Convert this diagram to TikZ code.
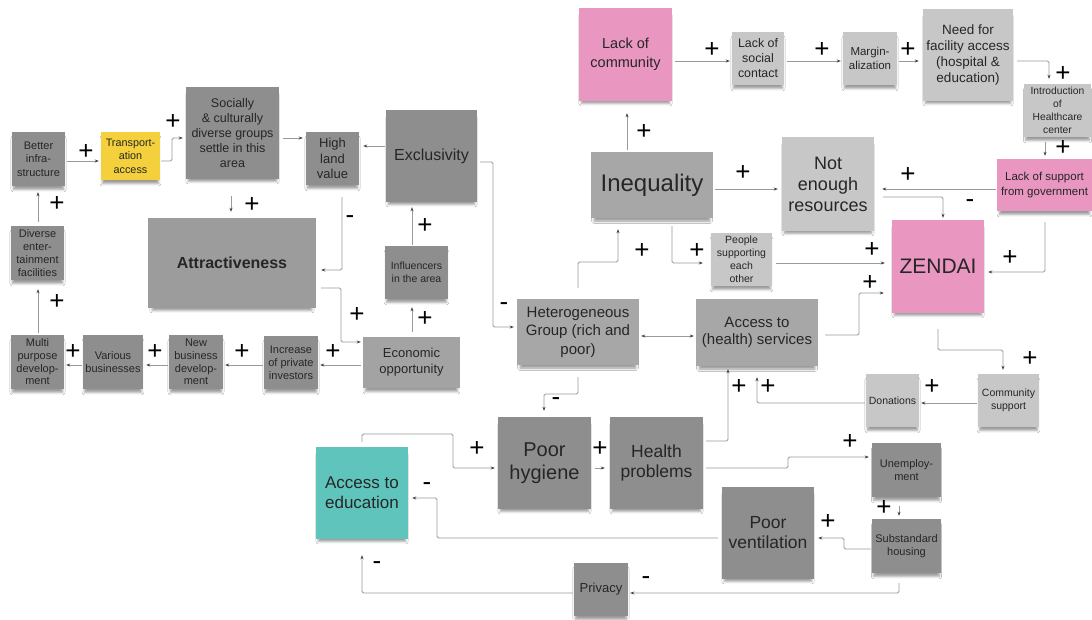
\documentclass[tikz,border=0pt]{standalone}
\usepackage{fontspec}
\setmainfont{Liberation Sans}
\usetikzlibrary{arrows.meta,shadows.blur}
\definecolor{notedark}{HTML}{8E8E8E}
\definecolor{noteattr}{HTML}{9C9C9C}
\definecolor{noteecon}{HTML}{A3A3A3}
\definecolor{notemid}{HTML}{A7A7A7}
\definecolor{notelight}{HTML}{C7C7C7}
\definecolor{notepink}{HTML}{E996C0}
\definecolor{noteyellow}{HTML}{F4D03C}
\definecolor{noteteal}{HTML}{5EC4BC}
\definecolor{linkgray}{HTML}{9A9A9A}
\newcommand\notefont[2]{\fontsize{#1}{#2}\selectfont}

\begin{document}
\begin{tikzpicture}[x=1pt,y=-1pt,
  >={Stealth[length=4pt,width=3pt,color=black!75]},
  note/.style={fill=#1, align=center, inner sep=0pt, text=black!85,
    blur shadow={shadow xshift=0pt, shadow yshift=-5pt, shadow blur radius=2.5pt,
      shadow scale=0.95}},
  sz/.style 2 args={minimum width=#1pt, minimum height=#2pt},
  link/.style={draw=linkgray, line width=0.8pt, rounded corners=1.5pt, ->},
  gap/.style 2 args={shorten <=#1pt, shorten >=#2pt},
  sgn/.style={font=\notefont{26}{26}, inner sep=0pt, text=black}]

\fill[white] (0,0) rectangle (1092,619);
\useasboundingbox (0,0) rectangle (1092,619);

% ---- left loop: urban attractiveness ----
\node[note=notedark, sz={53}{54}, font=\notefont{11}{13.5}] (infra) at (38.5,159) {Better\\infra-\\structure};
\node[note=noteyellow, sz={59}{48}, font=\notefont{10.8}{13.5}] (transport) at (130.5,156) {Transport-\\ation\\access};
\node[note=notedark, sz={93}{92}, font=\notefont{12.5}{15}] (social) at (232.5,133) {Socially\\\& culturally\\diverse groups\\settle in this\\area};
\node[note=notedark, sz={53}{53}, font=\notefont{13}{15.5}] (land) at (332.5,158.5) {High\\land\\value};
\node[note=notedark, sz={91}{92}, font=\notefont{16}{19}] (excl) at (431.5,156) {Exclusivity};
\node[note=noteattr, sz={168}{90}, font=\notefont{16}{19}\bfseries] (attract) at (232,263) {Attractiveness};
\node[note=notedark, sz={63}{53}, font=\notefont{10.5}{13}] (influ) at (416.5,272.5) {Influencers\\in the area};
\node[note=notedark, sz={53}{54}, font=\notefont{11}{13}] (diverse) at (37.5,253) {Diverse\\enter-\\tainment\\facilities};
\node[note=notedark, sz={53}{54}, font=\notefont{11}{12.7}] (multi) at (37.5,362) {Multi\\purpose\\develop-\\ment};
\node[note=notedark, sz={60}{54}, font=\notefont{11}{13}] (various) at (113,362) {Various\\businesses};
\node[note=notedark, sz={54}{54}, font=\notefont{11}{12.7}] (newbiz) at (196,362) {New\\business\\develop-\\ment};
\node[note=notedark, sz={54}{53}, font=\notefont{11}{13}] (investors) at (291,362.5) {Increase\\of private\\investors};
\node[note=noteecon, sz={97}{51}, font=\notefont{13}{16}] (econ) at (411.5,362.5) {Economic\\opportunity};

% ---- top right: community and resources ----
\node[note=notepink, sz={93}{93}, font=\notefont{14.5}{19}] (community) at (625.5,54.5) {Lack of\\community};
\node[note=notelight, sz={52}{53}, font=\notefont{12.4}{15}] (socialcontact) at (758,58.5) {Lack of\\social\\contact};
\node[note=notelight, sz={54}{53}, font=\notefont{11.5}{13.5}] (margin) at (870,58.5) {Margin-\\alization};
\node[note=notelight, sz={90}{92}, font=\notefont{13.5}{15.7}] (need) at (968,55) {Need for\\facility access\\(hospital \&\\education)};
\node[note=notelight, sz={67}{53}, font=\notefont{10.3}{12.8}] (intro) at (1057.5,110.5) {Introduction\\of\\Healthcare\\center};
\node[note=notepink, sz={95}{52}, font=\notefont{11.5}{14.3}] (govt) at (1044.5,185) {Lack of support\\from government};
\node[note=notemid, sz={122}{66}, font=\notefont{24}{28}] (ineq) at (652,185) {Inequality};
\node[note=notelight, sz={92}{94}, font=\notefont{18}{21}] (resources) at (828,184) {Not\\enough\\resources};
\node[note=notelight, sz={61}{53}, font=\notefont{10.5}{13}] (people) at (741.5,259.5) {People\\supporting\\each\\other};
\node[note=notepink, sz={92}{93}, font=\notefont{21}{24}] (zendai) at (938,266.5) {ZENDAI};
\node[note=notemid, sz={122}{66}, font=\notefont{15}{18.5}] (hetero) at (578,332) {Heterogeneous\\Group (rich and\\poor)};
\node[note=notemid, sz={122}{67}, font=\notefont{15}{17.7}] (access) at (757,332.5) {Access to\\(health) services};
\node[note=notelight, sz={53}{53}, font=\notefont{10.5}{13}] (donations) at (892.5,400.5) {Donations};
\node[note=notelight, sz={61}{53}, font=\notefont{10.5}{13}] (commsupport) at (1008.5,400.5) {Community\\support};

% ---- bottom: living conditions ----
\node[note=noteteal, sz={92}{92}, font=\notefont{17}{20}] (education) at (362,493) {Access to\\education};
\node[note=notedark, sz={93}{92}, font=\notefont{20}{23}] (hygiene) at (544.5,463) {Poor\\hygiene};
\node[note=notedark, sz={93}{92}, font=\notefont{17.5}{20.5}] (health) at (656.5,463) {Health\\problems};
\node[note=notedark, sz={69}{54}, font=\notefont{11}{12.5}] (unemp) at (906.5,470) {Unemploy-\\ment};
\node[note=notedark, sz={92}{92}, font=\notefont{17.5}{20}] (ventilation) at (768,533) {Poor\\ventilation};
\node[note=notedark, sz={69}{54}, font=\notefont{11}{12.7}] (housing) at (906.5,546) {Substandard\\housing};
\node[note=notedark, sz={54}{53}, font=\notefont{13}{15}] (privacy) at (601,589.5) {Privacy};

% ---- links ----
\draw[link, gap={2}{2}] (infra.east |- 0,161) -- (transport.west |- 0,161);
\draw[link, gap={1}{3}] (transport.east |- 0,161) -- (172,161) -- (172,138) -- (social.west |- 0,138);
\draw[link, gap={4}{3}] (social.east |- 0,138) -- (land.west |- 0,138);
\draw[link, gap={1}{4}] (excl.west |- 0,146) -- (land.east |- 0,146);
\draw[link, gap={17}{6}] (social.south -| 231,0) -- (attract.north -| 231,0);
\draw[link, gap={4}{6}] (diverse.north -| 38,0) -- (infra.south -| 38,0);
\draw[link, gap={2}{9}] (multi.north -| 38,0) -- (diverse.south -| 38,0);
\draw[link, gap={12}{5}] (land.south -| 342,0) -- (342,270) -- (attract.east |- 0,270);
\draw[link, gap={5}{2}] (attract.east |- 0,288) -- (341,288) -- (341,342) -- (econ.west |- 0,342);
\draw[link, gap={1}{5}] (influ.north -| 412,0) -- (excl.south -| 412,0);
\draw[link, gap={5}{8}] (econ.north -| 412,0) -- (influ.south -| 412,0);
\draw[link, gap={2}{2}] (econ.west |- 0,365) -- (investors.east |- 0,365);
\draw[link, gap={1}{2}] (investors.west |- 0,365) -- (newbiz.east |- 0,365);
\draw[link, gap={1}{3}] (newbiz.west |- 0,365) -- (various.east |- 0,365);
\draw[link, gap={1}{2}] (various.west |- 0,365) -- (multi.east |- 0,365);
\draw[link, gap={3}{3}] (excl.east |- 0,162) -- (493,162) -- (493,327) -- (hetero.west |- 0,327);
\draw[link, gap={11}{11}] (hetero.north -| 578,0) -- (578,262) -- (618,262) -- (ineq.south -| 618,0);
\draw[link, <->, gap={2}{2}] (hetero.east |- 0,336) -- (access.west |- 0,336);
\draw[link, gap={12}{6}] (hetero.south -| 578,0) -- (578,394) -- (544,394) -- (hygiene.north -| 544,0);
\draw[link, gap={2}{12}] (ineq.north -| 627,0) -- (community.south -| 627,0);
\draw[link, gap={3}{2}] (community.east |- 0,61) -- (socialcontact.west |- 0,61);
\draw[link, gap={3}{2}] (socialcontact.east |- 0,61) -- (margin.west |- 0,61);
\draw[link, gap={2}{4}] (margin.east |- 0,61) -- (need.west |- 0,61);
\draw[link, gap={4}{5}] (need.east |- 0,61) -- (1049,61) -- (intro.north -| 1049,0);
\draw[link, gap={5}{3}] (intro.south -| 1045,0) -- (govt.north -| 1045,0);
\draw[link, gap={2}{4}] (ineq.east |- 0,189) -- (resources.west |- 0,189);
\draw[link, gap={1}{8}] (govt.west |- 0,189) -- (resources.east |- 0,189);
\draw[link, gap={9}{2}] (resources.east |- 0,197) -- (943,197) -- (zendai.north -| 943,0);
\draw[link, gap={11}{4}] (govt.south -| 1045,0) -- (1045,272) -- (zendai.east |- 0,272);
\draw[link, gap={8}{8}] (ineq.south -| 672,0) -- (672,263) -- (people.west |- 0,263);
\draw[link, gap={4}{7}] (people.east |- 0,263) -- (zendai.west |- 0,263);
\draw[link, gap={7}{8}] (access.east |- 0,335) -- (859,335) -- (859,293) -- (zendai.west |- 0,293);
\draw[link, gap={16}{4}] (zendai.south -| 938,0) -- (938,350) -- (1003,350) -- (commsupport.north -| 1003,0);
\draw[link, gap={1}{2}] (commsupport.west |- 0,403) -- (donations.east |- 0,403);
\draw[link, gap={1}{11}] (donations.west |- 0,403) -- (757,403) -- (access.south -| 757,0);
\draw[link, gap={3}{3}] (health.east |- 0,441) -- (728,441) -- (access.south -| 728,0);
\draw[link, gap={3}{3}] (health.east |- 0,468) -- (788,468) -- (788,457) -- (unemp.west |- 0,457);
\draw[link, gap={9}{3}] (unemp.south -| 899,0) -- (housing.north -| 899,0);
\draw[link, gap={1}{4}] (housing.west |- 0,549) -- (844,549) -- (844,538) -- (ventilation.east |- 0,538);
\draw[link, gap={10}{2}] (housing.south -| 899,0) -- (899,593) -- (privacy.east |- 0,593);
\draw[link, gap={4}{4}] (ventilation.west |- 0,538) -- (437,538) -- (437,498) -- (education.east |- 0,498);
\draw[link, gap={1}{16}] (privacy.west |- 0,593) -- (362,593) -- (education.south -| 362,0);
\draw[link, gap={5}{3}] (education.north -| 362,0) -- (362,434) -- (453,434) -- (453,468) -- (hygiene.west |- 0,468);
\draw[link, gap={4}{5}] (hygiene.east |- 0,468) -- (health.west |- 0,468);

% ---- polarity signs ----
\node[sgn] (s1) at (86,152) {+};
\node[sgn] (s2) at (173,122) {+};
\node[sgn] (s3) at (57,204) {+};
\node[sgn] (s4) at (252,205) {+};
\node[sgn] (s5) at (57,302) {+};
\node[sgn] (s6) at (350,220) {-};
\node[sgn] (s7) at (357,315) {+};
\node[sgn] (s8) at (425,226) {+};
\node[sgn] (s9) at (425,319) {+};
\node[sgn] (s10) at (333,352) {+};
\node[sgn] (s11) at (242,352) {+};
\node[sgn] (s12) at (155,352) {+};
\node[sgn] (s13) at (73,352) {+};
\node[sgn] (s14) at (504,307) {-};
\node[sgn] (s15) at (642,251) {+};
\node[sgn] (s16) at (697,251) {+};
\node[sgn] (s17) at (644,132) {+};
\node[sgn] (s18) at (712,50) {+};
\node[sgn] (s19) at (822,50) {+};
\node[sgn] (s20) at (908,50) {+};
\node[sgn] (s21) at (1063,74) {+};
\node[sgn] (s22) at (1063,148) {+};
\node[sgn] (s23) at (743,173) {+};
\node[sgn] (s24) at (908,175) {+};
\node[sgn] (s25) at (970,204) {-};
\node[sgn] (s26) at (1010,258) {+};
\node[sgn] (s27) at (872,250) {+};
\node[sgn] (s28) at (870,283) {+};
\node[sgn] (s29) at (1030,359) {+};
\node[sgn] (s30) at (932,387) {+};
\node[sgn] (s31) at (768,387) {+};
\node[sgn] (s32) at (739,387) {+};
\node[sgn] (s33) at (556,402) {-};
\node[sgn] (s34) at (477,449) {+};
\node[sgn] (s35) at (600,449) {+};
\node[sgn] (s36) at (850,442) {+};
\node[sgn] (s37) at (884,508) {+};
\node[sgn] (s38) at (828,522) {+};
\node[sgn] (s39) at (427,487) {-};
\node[sgn] (s40) at (377,566) {-};
\node[sgn] (s41) at (646,581) {-};
\end{tikzpicture}
\end{document}
